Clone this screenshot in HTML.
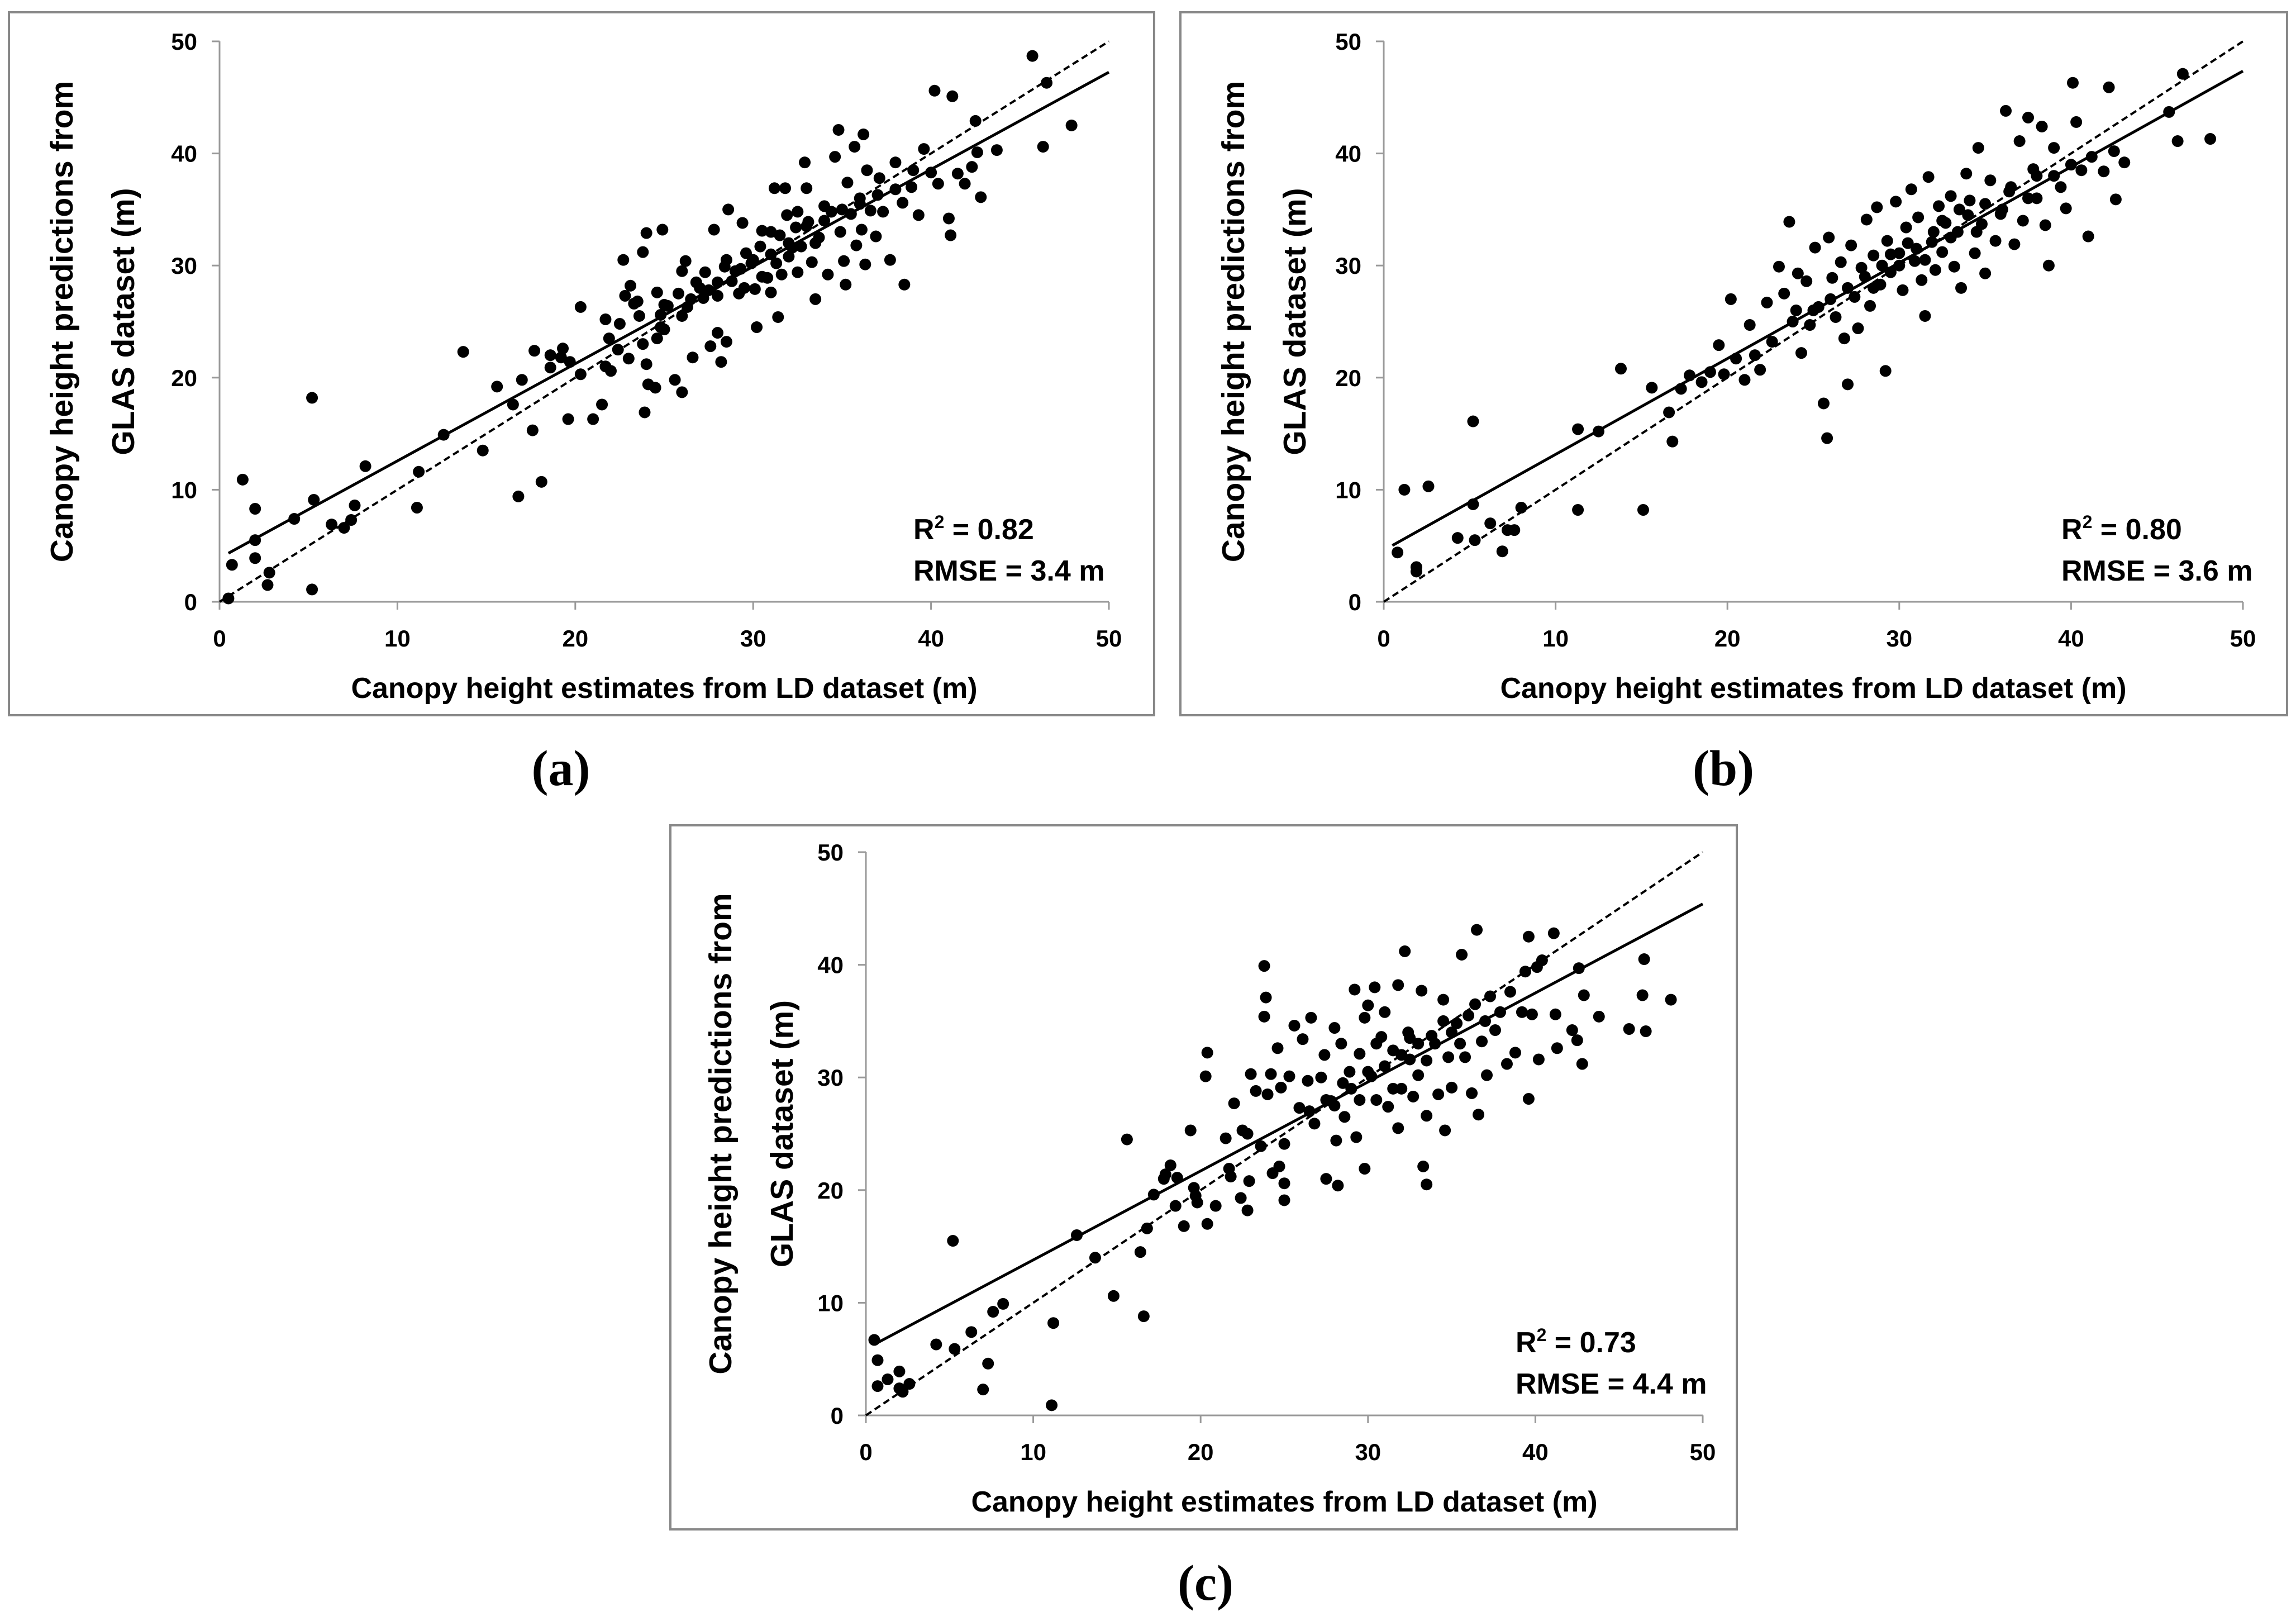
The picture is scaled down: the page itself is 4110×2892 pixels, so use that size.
<!DOCTYPE html>
<html><head><meta charset="utf-8">
<style>
html,body{margin:0;padding:0;background:#fff;}
svg{display:block;}
text{font-family:"Liberation Sans Narrow","Liberation Sans",sans-serif;font-weight:bold;fill:#000;}
</style></head>
<body>
<svg id="fig" width="4110" height="2892" viewBox="0 0 4110 2892" xmlns="http://www.w3.org/2000/svg"></svg>
<script>
// ---- data ----
const ticks = [0,10,20,30,40,50];
const pointsA = [[0.5,0.3],[0.7,3.3],[1.3,10.9],[2,8.3],[2,5.5],[2,3.9],[2.7,1.5],[2.8,2.6],[4.2,7.4],[5.2,18.2],[5.3,9.1],[5.2,1.1],[6.3,6.9],[7,6.6],[7.6,8.6],[7.4,7.3],[8.2,12.1],[11.1,8.4],[11.2,11.6],[12.6,14.9],[13.7,22.3],[14.8,13.5],[15.6,19.2],[16.5,17.6],[16.8,9.4],[17,19.8],[17.6,15.3],[17.7,22.4],[18.1,10.7],[18.6,20.9],[18.6,22],[19.2,21.8],[19.3,22.6],[19.6,16.3],[19.7,21.4],[20.3,26.3],[20.3,20.3],[21,16.3],[21.5,17.6],[21.7,25.2],[21.7,21],[21.9,23.5],[22,20.6],[22.4,22.5],[22.5,24.8],[22.7,30.5],[23,21.7],[23.1,28.2],[23.3,26.6],[23.6,25.5],[23.8,31.2],[23.8,23],[23.9,16.9],[24,32.9],[24,21.2],[24.1,19.4],[24.5,19.1],[24.6,23.5],[24.6,27.6],[24.8,25.6],[24.9,33.2],[25,24.3],[25.2,26.4],[25.6,19.8],[25.8,27.5],[26,29.5],[26,18.7],[26.2,30.4],[26.3,26.3],[26.6,21.8],[26.8,28.5],[27.2,27.1],[27.3,29.4],[27.6,22.8],[27.8,33.2],[28,27.3],[28,24],[28.2,21.4],[28.4,29.9],[28.6,35],[28.5,23.2],[28.8,28.6],[29.2,27.5],[29.3,29.7],[29.4,33.8],[29.6,31.1],[29.9,30.2],[30.1,27.9],[30.2,24.5],[30.4,31.7],[30.5,33.1],[30.8,28.9],[31,27.6],[31.2,36.9],[31.3,30.2],[31.4,25.4],[31.5,32.7],[31.6,29.2],[31.8,36.9],[31.9,34.5],[32,30.8],[32.2,31.6],[32.4,33.4],[32.5,29.4],[32.7,31.7],[32.9,39.2],[33,36.9],[33.1,33.9],[33.3,30.3],[33.5,27],[33.7,32.5],[34,35.3],[34.2,29.2],[34.4,34.8],[34.6,39.7],[34.8,42.1],[34.9,33],[35.1,30.4],[35.2,28.3],[35.3,37.4],[35.5,34.6],[35.7,40.6],[35.8,31.8],[36.1,33.2],[36.2,41.7],[36.3,30.1],[36.4,38.5],[36.6,34.9],[36.9,32.6],[37.1,37.8],[37.3,34.8],[37.7,30.5],[38,39.2],[38.4,35.6],[38.5,28.3],[38.9,37],[39.3,34.5],[39.6,40.4],[40,38.3],[40.2,45.6],[40.4,37.3],[41,34.2],[41.1,32.7],[41.2,45.1],[41.5,38.2],[41.9,37.3],[42.3,38.8],[42.5,42.9],[42.6,40.1],[42.8,36.1],[43.7,40.3],[45.7,48.7],[46.3,40.6],[46.5,46.3],[47.9,42.5],[25,26.5],[26.5,27],[27,28],[28,28.5],[29,29.5],[30,30.5],[31,31],[32,32],[33,33.5],[34,34],[35,35],[36,36],[27.5,27.8],[29.5,28],[30.5,29],[32.5,34.8],[33.5,32],[31,33],[28.5,30.5],[26,25.5],[24.8,24.5],[23.5,26.8],[22.8,27.3],[36,35.5],[37,36.3],[38,36.8],[39,38.5]];
const pointsB = [[0.8,4.4],[1.2,10],[1.9,3.1],[1.9,2.7],[2.6,10.3],[4.3,5.7],[5.2,16.1],[5.2,8.7],[5.3,5.5],[6.2,7],[6.9,4.5],[7.2,6.4],[7.6,6.4],[8,8.4],[11.3,15.4],[11.3,8.2],[12.5,15.2],[13.8,20.8],[15.1,8.2],[15.6,19.1],[16.6,16.9],[16.8,14.3],[17.3,19],[17.8,20.2],[18.5,19.6],[19,20.5],[19.5,22.9],[19.8,20.3],[20.2,27],[20.5,21.7],[21,19.8],[21.3,24.7],[21.6,22],[21.9,20.7],[22.3,26.7],[22.6,23.2],[23,29.9],[23.3,27.5],[23.6,33.9],[23.8,25],[24.1,29.3],[24.3,22.2],[24.6,28.6],[24.8,24.7],[25.1,31.6],[25.3,26.3],[25.6,17.7],[25.8,14.6],[25.9,32.5],[26.1,28.9],[26.3,25.4],[26.6,30.3],[26.8,23.5],[27,19.4],[27.2,31.8],[27.4,27.2],[27.6,24.4],[27.8,29.8],[28.1,34.1],[28.3,26.4],[28.5,30.9],[28.7,35.2],[28.9,28.3],[29.2,20.6],[29.3,32.2],[29.5,29.4],[29.8,35.7],[30,31.1],[30.2,27.8],[30.4,33.4],[30.7,36.8],[30.9,30.4],[31.1,34.3],[31.3,28.7],[31.5,25.5],[31.7,37.9],[31.9,32.1],[32.1,29.6],[32.3,35.3],[32.5,31.2],[32.7,33.8],[33,36.2],[33.2,29.9],[33.4,33],[33.6,28],[33.9,38.2],[34.1,35.8],[34.4,31.1],[34.6,40.5],[34.8,33.7],[35,29.3],[35.3,37.6],[35.6,32.2],[35.9,34.6],[36.2,43.8],[36.4,36.6],[36.7,31.9],[37,41.1],[37.2,34],[37.5,43.2],[37.8,38.6],[38,36],[38.3,42.4],[38.5,33.6],[38.7,30],[39,40.5],[39.4,37],[39.7,35.1],[40.1,46.3],[40.3,42.8],[40.6,38.5],[41,32.6],[41.2,39.7],[41.9,38.4],[42.2,45.9],[42.5,40.2],[42.6,35.9],[43.1,39.2],[45.7,43.7],[46.2,41.1],[46.5,47.1],[48.1,41.3],[28,29],[29,30],[30,30],[31,31.5],[32,33],[33,32.5],[34,34.5],[35,35.5],[36,35],[27,28],[26,27],[25,26],[24,26],[30.5,32],[31.5,30.5],[32.5,34],[29.5,31],[28.5,28],[33.5,35],[34.5,33],[36.5,37],[37.5,36],[39,38],[40,39],[38,38]];
const pointsC = [[0.5,6.7],[0.7,4.9],[0.7,2.6],[1.3,3.2],[2,3.9],[2,2.4],[2.2,2.1],[2.6,2.8],[4.2,6.3],[5.2,15.5],[5.3,5.9],[6.3,7.4],[7,2.3],[7.3,4.6],[7.6,9.2],[8.2,9.9],[11.1,0.9],[11.2,8.2],[12.6,16],[13.7,14],[14.8,10.6],[15.6,24.5],[16.4,14.5],[16.6,8.8],[16.8,16.6],[17.2,19.6],[17.8,21],[17.9,21.4],[18.2,22.2],[18.5,18.6],[18.6,21.1],[19,16.8],[19.4,25.3],[19.6,20.2],[19.7,19.5],[19.8,18.9],[20.3,30.1],[20.4,32.2],[20.4,17],[20.9,18.6],[21.5,24.6],[21.7,21.9],[21.8,21.2],[22,27.7],[22.4,19.3],[22.5,25.3],[22.8,25],[22.8,18.2],[22.9,20.8],[23,30.3],[23.3,28.8],[23.6,23.9],[23.8,39.9],[23.9,37.1],[23.8,35.4],[24,28.5],[24.2,30.3],[24.3,21.5],[24.6,32.6],[24.7,22.1],[24.8,29.1],[25,24.1],[25,19.1],[25,20.6],[25.3,30.1],[25.6,34.6],[25.9,27.3],[26.1,33.4],[26.4,29.7],[26.6,35.3],[26.8,25.9],[27.2,30],[27.4,32],[27.5,21],[27.8,27.9],[28,34.4],[28.1,24.4],[28.2,20.4],[28.4,33],[28.6,26.5],[28.9,30.5],[29.2,37.8],[29.3,24.7],[29.5,32.1],[29.8,35.3],[29.8,21.9],[30,36.4],[30.2,30.1],[30.4,38],[30.5,28],[30.8,33.6],[31,35.8],[31.2,27.4],[31.5,32.4],[31.8,38.2],[31.8,25.5],[32,29],[32.2,41.2],[32.4,34],[32.5,31.6],[32.7,28.3],[33,30.2],[33.2,37.7],[33.3,22.1],[33.5,20.5],[33.5,26.6],[33.8,33.7],[34.2,28.5],[34.5,36.9],[34.6,25.3],[34.8,31.8],[35,29.1],[35.3,34.8],[35.6,40.9],[35.8,31.8],[36.2,28.6],[36.4,36.5],[36.5,43.1],[36.6,26.7],[36.8,33.2],[37.1,30.2],[37.3,37.2],[37.6,34.2],[37.9,35.8],[38.3,31.2],[38.5,37.6],[38.8,32.2],[39.2,35.8],[39.4,39.4],[39.6,42.5],[39.6,28.1],[39.8,35.6],[40.1,39.8],[40.2,31.6],[40.4,40.4],[41.1,42.8],[41.2,35.6],[41.3,32.6],[42.2,34.2],[42.5,33.3],[42.6,39.7],[42.8,31.2],[42.9,37.3],[43.8,35.4],[45.6,34.3],[46.4,37.3],[46.5,40.5],[46.6,34.1],[48.1,36.9],[27.5,28],[28,27.5],[29,29],[30,30.5],[31,31],[32,32],[33,33],[34,33],[35,34],[36,35.5],[30.5,33],[31.5,29],[32.5,33.5],[33.5,31.5],[34.5,35],[35.5,33],[28.5,29.5],[26.5,27],[29.5,28],[37,35]];
const fitA = [3.9, 0.867];
const fitB = [4.6, 0.855];
const fitC = [5.9, 0.79];
const statsA = ["0.82","3.4"];
const statsB = ["0.80","3.6"];
const statsC = ["0.73","4.4"];

const NS = "http://www.w3.org/2000/svg";
const svg = document.getElementById('fig');
function mk(tag, attrs, parent){
  const e = document.createElementNS(NS, tag);
  for (const k in attrs) e.setAttribute(k, attrs[k]);
  (parent||svg).appendChild(e);
  return e;
}
function panel(cfg){
  const g = mk('g', {});
  
  
  const X = v => cfg.x0 + (cfg.x1 - cfg.x0) * v / 50;
  const Y = v => cfg.y0 - (cfg.y0 - cfg.y1) * v / 50;
  const box = mk('rect', {x:cfg.bx, y:cfg.by, width:cfg.bw, height:cfg.bh, fill:'none', stroke:'#888', 'stroke-width':4}, g);
  
  
  const ax = mk('line', {x1:X(0), y1:Y(0), x2:X(50), y2:Y(0), stroke:'#999', 'stroke-width':3}, g);
  
  
  const ay = mk('line', {x1:X(0), y1:Y(0), x2:X(0), y2:Y(50), stroke:'#999', 'stroke-width':3}, g);
  
  
  ticks.forEach(t => {
    mk('line', {x1:X(t), y1:Y(0), x2:X(t), y2:Y(0)+14, stroke:'#999', 'stroke-width':3}, g);
    mk('line', {x1:X(0)-14, y1:Y(t), x2:X(0), y2:Y(t), stroke:'#999', 'stroke-width':3}, g);
    const tx = mk('text', {x:X(t), y:Y(0)+80, 'text-anchor':'middle', 'font-size':42}, g);
    tx.textContent = t;
    
    
    const ty = mk('text', {x:X(0)-40, y:Y(t)+15, 'text-anchor':'end', 'font-size':42}, g);
    ty.textContent = t;
    
    
  });
  const d = mk('line', {x1:X(0), y1:Y(0), x2:X(50), y2:Y(50), stroke:'#000', 'stroke-width':4, 'stroke-dasharray':'12 7'}, g);
  
  
  cfg.pts.forEach(p => {
    const c = mk('circle', {cx:X(p[0]), cy:Y(p[1]), r:10.5, fill:'#000'}, g);
    
    
  });
  const f = cfg.fit;
  const r = mk('line', {x1:X(0.5), y1:Y(f[0]+f[1]*0.5), x2:X(50), y2:Y(f[0]+f[1]*50), stroke:'#000', 'stroke-width':5}, g);
  
  
  const s1 = mk('text', {x:cfg.sx, y:cfg.sy, 'font-size':52}, g);
  s1.innerHTML = 'R<tspan dy="-20" font-size="32">2</tspan><tspan dy="20"> = ' + cfg.stats[0] + '</tspan>';
  
  
  const s2 = mk('text', {x:cfg.sx, y:cfg.sy+74, 'font-size':52}, g);
  s2.textContent = 'RMSE = ' + cfg.stats[1] + ' m';
  
  
  const xt = mk('text', {x:(X(0)+X(50))/2, y:Y(0)+172, 'text-anchor':'middle', 'font-size':52}, g);
  xt.textContent = 'Canopy height estimates from LD dataset (m)';
  
  
  const cy = (Y(0)+Y(50))/2;
  const yt = mk('text', {transform:'translate(' + cfg.yx + ',' + cy + ') rotate(-90)', 'text-anchor':'middle', 'font-size':57}, g);
  yt.innerHTML = '<tspan x="0" y="0">Canopy height predictions from</tspan><tspan x="0" y="110">GLAS dataset (m)</tspan>';
  
  
  const pl = mk('text', {x:cfg.lx, y:cfg.ly, 'text-anchor':'middle', 'font-size':90, style:'font-family:"Liberation Serif",serif'}, g);
  pl.innerHTML = '(<tspan>' + cfg.id + '</tspan>)';
  
  
}
panel({id:'a', x0:393, x1:1985, y0:1077, y1:74, bx:16, by:22, bw:2050, bh:1258, pts:pointsA, fit:fitA, stats:statsA, sx:1635, sy:965, yx:130, lx:1004, ly:1405});
panel({id:'b', x0:2477, x1:4015, y0:1077, y1:74, bx:2113, by:22, bw:1981, bh:1258, pts:pointsB, fit:fitB, stats:statsB, sx:3690, sy:965, yx:2227, lx:3085, ly:1405});
panel({id:'c', x0:1550, x1:3048, y0:2533, y1:1525, bx:1200, by:1477, bw:1909, bh:1260, pts:pointsC, fit:fitC, stats:statsC, sx:2713, sy:2420, yx:1309, lx:2158, ly:2863});
</script>
</body></html>
